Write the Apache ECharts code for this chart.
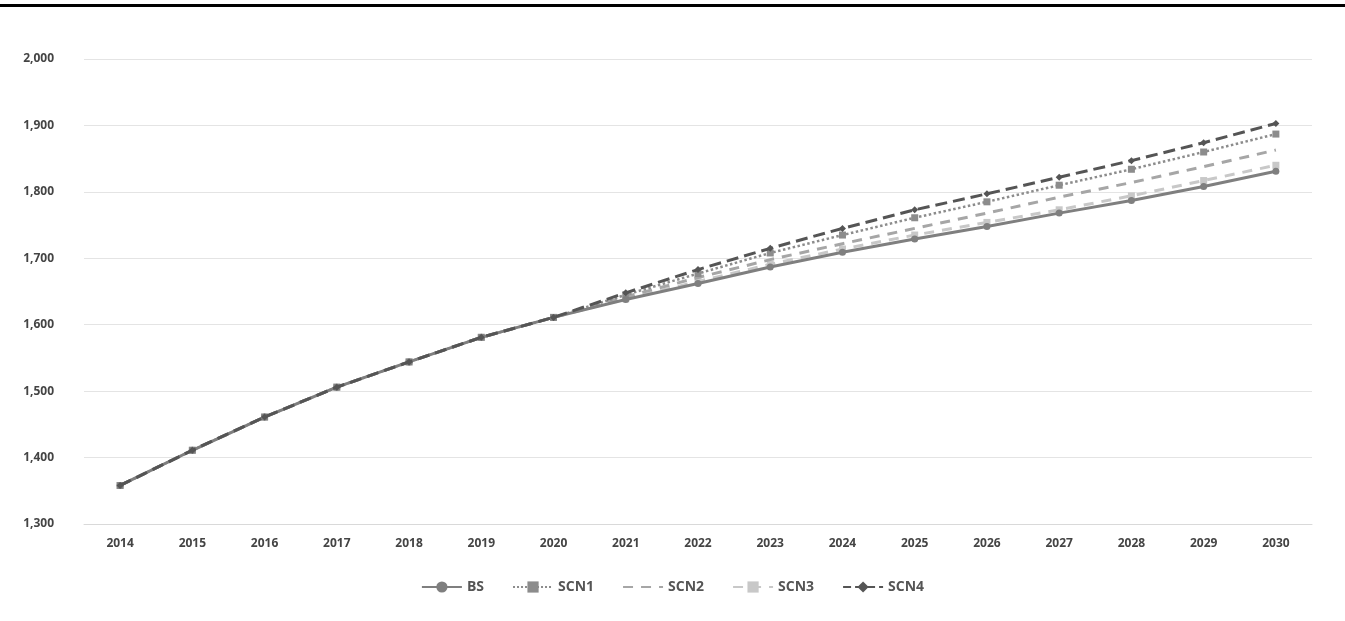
<!DOCTYPE html><html><head><meta charset="utf-8"><script src="https://cdn.jsdelivr.net/npm/echarts@6/dist/echarts.min.js"></script>
<style>body{margin:0;background:#fff}#top{position:absolute;left:0;top:4px;width:1345px;height:3px;background:#000}#c{width:1345px;height:621px}</style></head><body><div id="top"></div><div id="c"></div><script>
const years=['2014','2015','2016','2017','2018','2019','2020','2021','2022','2023','2024','2025','2026','2027','2028','2029','2030'];
const base=[1358,1411,1461,1506,1544,1581,1611];
const bs=[1638,1662,1687,1709,1729,1748,1768,1787,1808,1831];
const scn1=[1645,1677,1708,1735,1761,1785,1810,1834,1860,1887];
const scn2=[1642,1671,1698,1722,1745,1768,1792,1814,1838,1863];
const scn3=[1639,1665,1691,1714,1735,1754,1773,1794,1817,1840];
const scn4=[1648,1683,1715,1745,1773,1797,1822,1847,1874,1903];
const mk=(name,arr,color,type,sym,w,z)=>({name,type:'line',data:base.concat(arr),color,symbol:sym,symbolSize:7,z,
 lineStyle:{color,type,width:w},itemStyle:{color}});
const c=echarts.init(document.getElementById('c'));
c.setOption({animation:false,
grid:{left:84,right:33,top:59,bottom:97},
legend:{bottom:22,itemGap:28,itemWidth:40,textStyle:{fontFamily:'Open Sans',fontWeight:'bold',fontSize:14,color:'#555'}},
xAxis:{type:'category',data:years,axisLine:{lineStyle:{color:'#d9d9d9'}},axisTick:{show:false},axisLabel:{fontFamily:'Open Sans',fontWeight:'bold',fontSize:12,color:'#444',margin:14}},
yAxis:{type:'value',min:1300,max:2000,interval:100,axisLine:{show:false},axisTick:{show:false},splitLine:{lineStyle:{color:'#e4e4e4'}},axisLabel:{fontFamily:'Open Sans',fontWeight:'bold',fontSize:12,color:'#444',margin:30}},
series:[mk('BS',bs,'#7f7f7f','solid','circle',3,5),mk('SCN1',scn1,'#8c8c8c','dotted','rect',2.5,4),mk('SCN2',scn2,'#a6a6a6',[10,8],'path://M0,0L10,10M10,0L0,10',3,3),mk('SCN3',scn3,'#c8c8c8',[10,8],'rect',3,2),mk('SCN4',scn4,'#555555','dashed','diamond',3,6)]});
</script></body></html>
